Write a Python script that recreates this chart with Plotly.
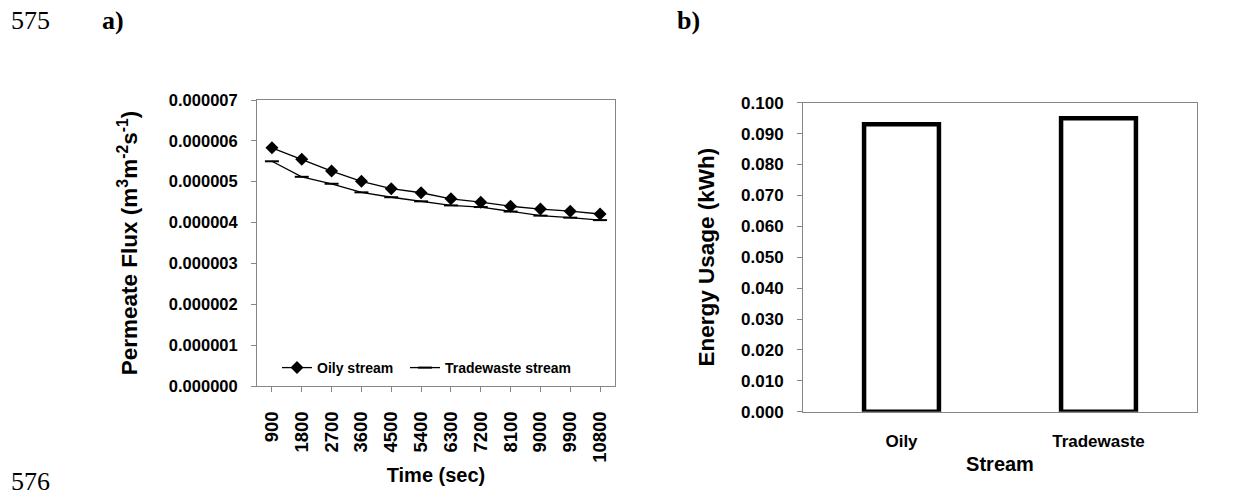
import plotly.graph_objects as go

# ---- data -------------------------------------------------------------
time_sec = ["900", "1800", "2700", "3600", "4500", "5400",
            "6300", "7200", "8100", "9000", "9900", "10800"]
oily_flux = [5.83e-6, 5.55e-6, 5.26e-6, 5.01e-6, 4.83e-6, 4.73e-6,
             4.58e-6, 4.50e-6, 4.40e-6, 4.33e-6, 4.28e-6, 4.21e-6]
tradewaste_flux = [5.50e-6, 5.12e-6, 4.95e-6, 4.74e-6, 4.62e-6, 4.52e-6,
                   4.42e-6, 4.38e-6, 4.27e-6, 4.17e-6, 4.12e-6, 4.06e-6]

streams = ["Oily", "Tradewaste"]
energy_kwh = [0.093, 0.095]

flux_ticks = [i * 1e-6 for i in range(8)]
energy_ticks = [i * 0.01 for i in range(11)]

# ---- figure geometry (pixels) ----------------------------------------
W, H = 1235, 497
SANS = "Liberation Sans"
SERIF = "Liberation Serif"
GRID_GRAY = "#868686"


def xdom(a, b):
    return [a / W, b / W]


def ydom(top, bottom):
    return [1 - bottom / H, 1 - top / H]


fig = go.Figure()

# a) permeate flux over time
fig.add_trace(go.Scatter(
    x=time_sec, y=oily_flux, name="Oily stream", mode="lines+markers",
    line=dict(color="black", width=1.3),
    marker=dict(symbol="diamond", size=10, color="black"),
    xaxis="x", yaxis="y", legend="legend",
))
fig.add_trace(go.Scatter(
    x=time_sec, y=tradewaste_flux, name="Tradewaste stream", mode="lines+markers",
    line=dict(color="black", width=1.3),
    marker=dict(symbol="line-ew", size=10, color="black",
                line=dict(color="black", width=2)),
    xaxis="x", yaxis="y", legend="legend2",
))

# b) energy usage per stream
fig.add_trace(go.Bar(
    x=streams, y=energy_kwh, width=0.38, showlegend=False,
    marker=dict(color="white", line=dict(color="black", width=4.5)),
    xaxis="x2", yaxis="y2",
))

tick_font = dict(family=SANS, size=17, color="black", weight="bold")
title_font = dict(family=SANS, size=20, color="black", weight="bold")
vtitle_font = dict(family=SANS, size=22.5, color="black", weight="bold")
legend_font = dict(family=SANS, size=14, color="black", weight="bold")

fig.update_layout(
    width=W, height=H,
    margin=dict(l=0, r=0, t=0, b=0, autoexpand=False),
    paper_bgcolor="white", plot_bgcolor="white",
    font=dict(family=SANS, color="black"),
    xaxis=dict(
        domain=xdom(257, 615), anchor="y", automargin=False,
        type="category", range=[-0.5, 11.5],
        showline=True, linecolor=GRID_GRAY, linewidth=1, mirror=True,
        ticks="outside", ticklen=5, tickcolor=GRID_GRAY,
        tickangle=-90, tickfont=dict(family=SANS, size=18.5, color="black", weight="bold"),
        ticklabelstandoff=12,
        showgrid=False, zeroline=False,
        title=dict(text="Time (sec)", font=title_font, standoff=6),
    ),
    yaxis=dict(
        domain=ydom(100, 386), anchor="x", automargin=False,
        range=[0, 7e-6], tickvals=flux_ticks, tickformat=".6f",
        showline=True, linecolor=GRID_GRAY, linewidth=1, mirror=True,
        ticks="outside", ticklen=5, tickcolor=GRID_GRAY,
        tickfont=dict(family=SANS, size=16.5, color="black", weight="bold"),
        ticklabelstandoff=10,
        showgrid=False, zeroline=False,
        title=dict(text="Permeate Flux (m<sup>3</sup>m<sup>-2</sup>s<sup>-1</sup>)",
                   font=vtitle_font, standoff=24),
    ),
    xaxis2=dict(
        domain=xdom(803, 1197), anchor="y2", automargin=False,
        type="category", range=[-0.5, 1.5],
        showline=True, linecolor=GRID_GRAY, linewidth=1, mirror=True,
        ticks="", tickfont=tick_font, ticklabelstandoff=14,
        showgrid=False, zeroline=False,
        title=dict(text="Stream", font=title_font, standoff=6),
    ),
    yaxis2=dict(
        domain=ydom(102.7, 411.7), anchor="x2", automargin=False,
        range=[0, 0.1], tickvals=energy_ticks, tickformat=".3f",
        showline=True, linecolor=GRID_GRAY, linewidth=1, mirror=True,
        ticks="outside", ticklen=5, tickcolor=GRID_GRAY,
        tickfont=tick_font, ticklabelstandoff=10,
        showgrid=False, zeroline=False,
        title=dict(text="Energy Usage (kWh)", font=vtitle_font, standoff=20),
    ),
    legend=dict(
        orientation="h", x=277 / W, y=1 - 368 / H,
        xanchor="left", yanchor="middle",
        bgcolor="rgba(0,0,0,0)", borderwidth=0,
        font=legend_font, itemwidth=30,
    ),
    legend2=dict(
        orientation="h", x=405 / W, y=1 - 368 / H,
        xanchor="left", yanchor="middle",
        bgcolor="rgba(0,0,0,0)", borderwidth=0,
        font=legend_font, itemwidth=30,
    ),
    showlegend=True,
)

# page labels: line numbers and panel letters
labels = [
    ("575", 9, 21, False),
    ("a)", 100, 21, True),
    ("b)", 675, 21, True),
    ("576", 9, 481, False),
]
for text, px, py, bold in labels:
    fig.add_annotation(
        text=text, x=px / W, y=1 - py / H, xref="paper", yref="paper",
        xanchor="left", yanchor="middle", showarrow=False,
        font=dict(family=SERIF, size=26, color="black",
                  weight="bold" if bold else "normal"),
    )

fig.write_html("out.html")
